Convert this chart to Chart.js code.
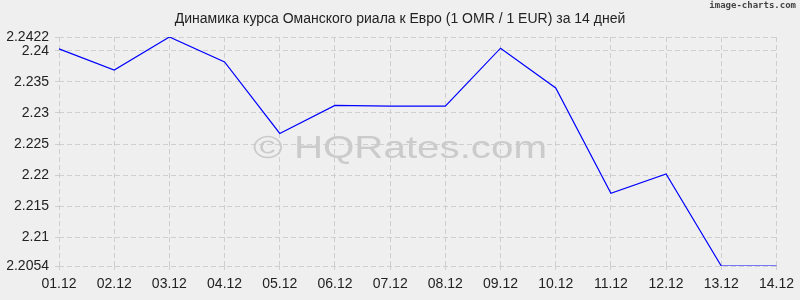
<!DOCTYPE html>
<html><head><meta charset="utf-8">
<script src="https://cdn.jsdelivr.net/npm/chart.js@4"></script>
<style>html,body{margin:0;padding:0;background:#efefef;}#wrap{width:800px;height:300px;}</style>
</head><body><div id="wrap"><canvas id="c" width="800" height="300"></canvas></div>
<script>
const titleText = "Динамика курса Оманского риала к Евро (1 OMR / 1 EUR) за 14 дней";
const categories = ["01.12","02.12","03.12","04.12","05.12","06.12","07.12","08.12","09.12","10.12","11.12","12.12","13.12","14.12"];
const rates = [2.2403,2.2369,2.2422,2.2382,2.2267,2.2312,2.2311,2.2311,2.2404,2.2340,2.2171,2.2202,2.2054,2.2054];
const yTicks = [2.2054,2.21,2.215,2.22,2.225,2.23,2.235,2.24,2.2422];
const yMin = 2.2054, yMax = 2.2422;

const decor = {
  id:'decor',
  beforeDraw(chart){
    const ctx = chart.ctx;
    ctx.save();
    ctx.fillStyle = '#efefef';
    ctx.fillRect(0,0,chart.width,chart.height);
    ctx.restore();
  },
  beforeDatasetsDraw(chart){
    const ctx = chart.ctx;
    ctx.save();
    ctx.font = '32px "Liberation Sans", Arial, sans-serif';
    ctx.fillStyle = '#cbcbcb';
    ctx.textAlign = 'center';
    ctx.textBaseline = 'middle';
    const t = '© HQRates.com';
    const w = ctx.measureText(t).width;
    ctx.translate(400, 149);
    ctx.scale(294 / w, 1);
    ctx.fillText(t, 0, 0);
    ctx.restore();
  },
  afterDraw(chart){
    const ctx = chart.ctx;
    ctx.save();
    ctx.font = '14px "Liberation Sans", Arial, sans-serif';
    ctx.fillStyle = '#222';
    ctx.textAlign = 'center';
    ctx.textBaseline = 'middle';
    ctx.fillText(titleText, 400, 19);
    ctx.font = 'bold 9px "DejaVu Sans Mono", monospace';
    ctx.fillStyle = '#444';
    ctx.textAlign = 'right';
    ctx.fillText('image-charts.com', 796, 6);
    ctx.restore();
  }
};

new Chart(document.getElementById('c'), {
  type:'line',
  data:{labels:categories, datasets:[{data:rates, borderColor:'#0000ff', borderWidth:1.2, pointRadius:0, tension:0, fill:false}]},
  options:{
    responsive:false, animation:false,
    layout:{padding:{left:0,right:21,top:37,bottom:0}},
    plugins:{legend:{display:false}, title:{display:false}, tooltip:{enabled:false}},
    scales:{
      x:{
        offset:false,
        grid:{color:'#cfcfcf', tickLength:4, drawTicks:true},
        border:{display:false, dash:[5,3]},
        ticks:{color:'#222', font:{size:14, family:'"Liberation Sans", Arial, sans-serif'}, maxRotation:0, autoSkip:false, padding:6},
        afterFit(s){ s.height = 34; }
      },
      y:{
        min:yMin, max:yMax,
        afterBuildTicks(s){ s.ticks = yTicks.map(v=>({value:v})); },
        grid:{color:'#cfcfcf', tickLength:4},
        border:{display:false, dash:[5,3]},
        ticks:{color:'#222', font:{size:14, family:'"Liberation Sans", Arial, sans-serif'}, padding:6, callback:v=>String(v)},
        afterFit(s){ s.width = 59; }
      }
    }
  },
  plugins:[decor]
});
</script></body></html>
